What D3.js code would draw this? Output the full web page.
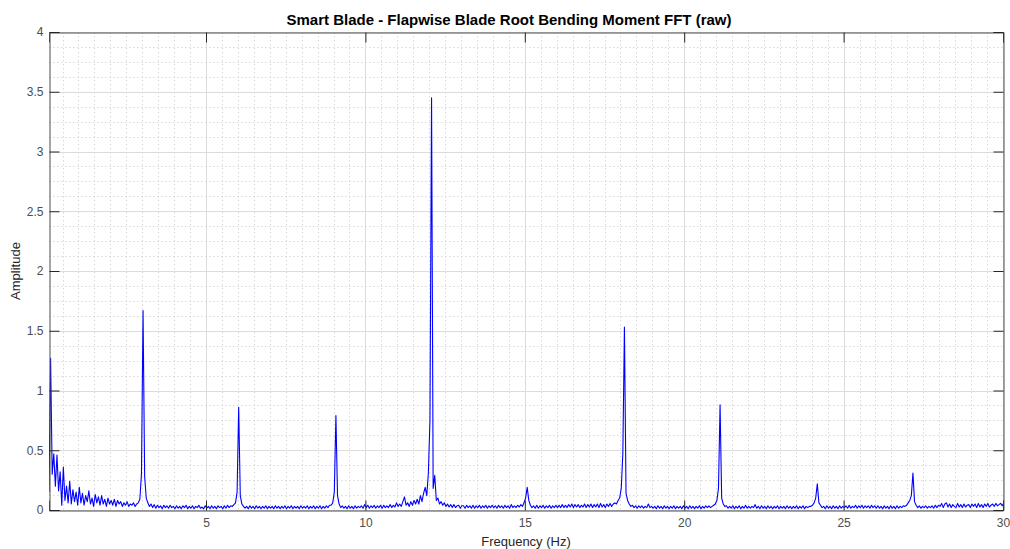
<!DOCTYPE html>
<html><head><meta charset="utf-8">
<script src="https://cdn.jsdelivr.net/npm/d3@7"></script>
<style>body{margin:0;background:#fff}svg{display:block}</style>
</head><body><svg id="c" width="1010" height="549"></svg>
<script>
const title = "Smart Blade - Flapwise Blade Root Bending Moment FFT (raw)";
const xLabel = "Frequency (Hz)";
const yLabel = "Amplitude";
const xTicks = [5, 10, 15, 20, 25, 30];
const yTicks = [0, 0.5, 1, 1.5, 2, 2.5, 3, 3.5, 4];
const freqStart = 0.075, freqStep = 0.05;   // FFT bin grid
// amplitude per 1 Hz band (20 bins each)
const amp00 = [0.15,1.27,0.3,0.47,0.2,0.46,0.16,0.32,0.04,0.36,0.08,0.2,0.06,0.24,0.05,0.17,0.07,0.15,0.04,0.19];
const amp01 = [0.06,0.14,0.04,0.12,0.07,0.16,0.05,0.1,0.03,0.13,0.06,0.11,0.04,0.12,0.05,0.09,0.03,0.1,0.05,0.08];
const amp02 = [0.04,0.09,0.03,0.08,0.05,0.07,0.03,0.06,0.04,0.07,0.03,0.05,0.04,0.06,0.03,0.05,0.06,0.09,0.3,1.67];
const amp03 = [0.28,0.1,0.06,0.03,0.05,0.02,0.045,0.015,0.04,0.02,0.035,0.01,0.04,0.02,0.035,0.015,0.04,0.02,0.03,0.01];
const amp04 = [0.035,0.015,0.03,0.01,0.035,0.02,0.04,0.01,0.03,0.015,0.035,0.01,0.03,0.02,0.04,0.015,0.025,0.01,0.035,0.015];
const amp05 = [0.03,0.01,0.035,0.015,0.03,0.01,0.035,0.02,0.03,0.01,0.035,0.015,0.04,0.02,0.035,0.03,0.045,0.06,0.15,0.86];
const amp06 = [0.12,0.05,0.03,0.015,0.03,0.01,0.035,0.015,0.03,0.01,0.035,0.015,0.03,0.01,0.03,0.015,0.035,0.01,0.03,0.015];
const amp07 = [0.03,0.01,0.035,0.015,0.03,0.01,0.03,0.015,0.035,0.01,0.03,0.015,0.035,0.01,0.03,0.015,0.03,0.01,0.035,0.015];
const amp08 = [0.03,0.015,0.035,0.01,0.03,0.015,0.035,0.01,0.03,0.015,0.035,0.01,0.03,0.015,0.035,0.02,0.04,0.04,0.06,0.15];
const amp09 = [0.79,0.12,0.05,0.02,0.035,0.015,0.03,0.01,0.035,0.015,0.03,0.01,0.035,0.015,0.03,0.02,0.035,0.015,0.045,0.02];
const amp10 = [0.04,0.015,0.035,0.02,0.04,0.015,0.035,0.02,0.04,0.015,0.04,0.02,0.035,0.02,0.045,0.02,0.04,0.025,0.06,0.03];
const amp11 = [0.05,0.03,0.07,0.11,0.04,0.06,0.03,0.07,0.04,0.08,0.05,0.09,0.05,0.12,0.07,0.14,0.19,0.12,0.31,0.75];
const amp12 = [3.45,0.18,0.29,0.08,0.1,0.05,0.07,0.04,0.06,0.03,0.05,0.025,0.045,0.02,0.045,0.02,0.035,0.04,0.015,0.035];
const amp13 = [0.035,0.015,0.04,0.02,0.035,0.015,0.04,0.015,0.035,0.02,0.04,0.015,0.035,0.02,0.04,0.015,0.035,0.02,0.04,0.02];
const amp14 = [0.035,0.015,0.04,0.02,0.035,0.015,0.04,0.02,0.035,0.015,0.045,0.02,0.035,0.02,0.04,0.025,0.045,0.03,0.06,0.1];
const amp15 = [0.19,0.08,0.04,0.02,0.035,0.015,0.04,0.015,0.035,0.02,0.04,0.015,0.035,0.02,0.04,0.015,0.035,0.02,0.04,0.02];
const amp16 = [0.04,0.02,0.045,0.02,0.04,0.02,0.045,0.025,0.05,0.02,0.045,0.025,0.045,0.02,0.04,0.025,0.05,0.02,0.045,0.025];
const amp17 = [0.05,0.02,0.045,0.025,0.05,0.02,0.055,0.025,0.045,0.02,0.05,0.03,0.055,0.03,0.05,0.06,0.05,0.08,0.1,0.18];
const amp18 = [0.47,1.53,0.14,0.08,0.05,0.03,0.04,0.02,0.035,0.015,0.035,0.02,0.035,0.015,0.03,0.02,0.05,0.02,0.03,0.015];
const amp19 = [0.03,0.01,0.035,0.015,0.03,0.01,0.035,0.015,0.03,0.01,0.03,0.015,0.035,0.01,0.03,0.015,0.03,0.01,0.035,0.015];
const amp20 = [0.03,0.01,0.035,0.015,0.03,0.01,0.03,0.015,0.035,0.01,0.03,0.015,0.035,0.02,0.035,0.02,0.03,0.04,0.05,0.08];
const amp21 = [0.18,0.88,0.1,0.05,0.03,0.035,0.015,0.03,0.015,0.035,0.01,0.03,0.015,0.035,0.01,0.03,0.015,0.04,0.015,0.03];
const amp22 = [0.015,0.03,0.02,0.045,0.015,0.03,0.01,0.035,0.015,0.03,0.01,0.035,0.015,0.03,0.01,0.03,0.015,0.035,0.01,0.03];
const amp23 = [0.015,0.03,0.01,0.035,0.015,0.03,0.01,0.03,0.015,0.035,0.01,0.03,0.015,0.035,0.01,0.03,0.02,0.03,0.03,0.04];
const amp24 = [0.06,0.1,0.22,0.06,0.04,0.02,0.03,0.01,0.035,0.015,0.03,0.01,0.035,0.015,0.03,0.01,0.035,0.015,0.03,0.02];
const amp25 = [0.035,0.015,0.04,0.015,0.03,0.02,0.04,0.015,0.035,0.02,0.04,0.015,0.035,0.02,0.035,0.015,0.04,0.02,0.035,0.015];
const amp26 = [0.035,0.015,0.03,0.01,0.035,0.015,0.03,0.01,0.035,0.015,0.03,0.01,0.035,0.015,0.03,0.02,0.035,0.03,0.04,0.06];
const amp27 = [0.08,0.12,0.31,0.07,0.04,0.02,0.035,0.015,0.03,0.02,0.035,0.015,0.03,0.02,0.035,0.015,0.04,0.02,0.04,0.03];
const amp28 = [0.055,0.02,0.05,0.06,0.025,0.05,0.02,0.045,0.03,0.02,0.055,0.025,0.045,0.02,0.05,0.025,0.04,0.045,0.02,0.05];
const amp29 = [0.03,0.05,0.02,0.055,0.025,0.045,0.02,0.05,0.03,0.055,0.025,0.04,0.05,0.03,0.055,0.035,0.045,0.055,0.035,0.06];

const amps = [].concat(amp00,amp01,amp02,amp03,amp04,amp05,amp06,amp07,amp08,amp09,
  amp10,amp11,amp12,amp13,amp14,amp15,amp16,amp17,amp18,amp19,
  amp20,amp21,amp22,amp23,amp24,amp25,amp26,amp27,amp28,amp29);
const data = amps.map((a, i) => ({f: freqStart + i * freqStep, a}));

const m = {l: 49, r: 1003, t: 32, b: 510};
const svg = d3.select("#c");
const x = d3.scaleLinear().domain([0.075, 30]).range([m.l, m.r]);
const y = d3.scaleLinear().domain([0, 4]).range([m.b, m.t]);
const font = "Helvetica, Arial, 'Liberation Sans', sans-serif";

// minor grid
const xMinor = d3.range(0.5, 30, 0.5).filter(v => v % 5 !== 0);
const yMinor = d3.range(0.125, 4, 0.125).filter(v => Math.abs(v*2 - Math.round(v*2)) > 1e-6);
const g = svg.append("g");
g.selectAll(".xm").data(xMinor).join("line")
  .attr("x1", d => Math.round(x(d)) + 0.5).attr("x2", d => Math.round(x(d)) + 0.5)
  .attr("y1", m.t).attr("y2", m.b)
  .attr("stroke", "#d9d9d9").attr("stroke-dasharray", "1.5,2.5");
g.selectAll(".ym").data(yMinor).join("line")
  .attr("y1", d => Math.round(y(d)) + 0.5).attr("y2", d => Math.round(y(d)) + 0.5)
  .attr("x1", m.l).attr("x2", m.r)
  .attr("stroke", "#d9d9d9").attr("stroke-dasharray", "1.5,2.5");
// major grid
g.selectAll(".xM").data(xTicks).join("line")
  .attr("x1", d => Math.round(x(d)) + 0.5).attr("x2", d => Math.round(x(d)) + 0.5)
  .attr("y1", m.t).attr("y2", m.b)
  .attr("stroke", "#dcdcdc");
g.selectAll(".yM").data(yTicks).join("line")
  .attr("y1", d => Math.round(y(d)) + 0.5).attr("y2", d => Math.round(y(d)) + 0.5)
  .attr("x1", m.l).attr("x2", m.r)
  .attr("stroke", "#dcdcdc");

// data line
svg.append("clipPath").attr("id", "clip").append("rect")
  .attr("x", m.l).attr("y", m.t).attr("width", m.r - m.l).attr("height", m.b - m.t);
svg.append("path").datum(data)
  .attr("clip-path", "url(#clip)")
  .attr("fill", "none").attr("stroke", "#0000ff").attr("stroke-width", 1.1)
  .attr("stroke-linejoin", "round")
  .attr("d", d3.line().x(d => x(d.f)).y(d => y(d.a)));

// axes (ticks inside, box)
const axB = d3.axisBottom(x).tickValues(xTicks).tickSize(-10).tickPadding(8).tickFormat(d3.format("d"));
const axT = d3.axisTop(x).tickValues(xTicks).tickSize(-10).tickFormat("");
const axL = d3.axisLeft(y).tickValues(yTicks).tickSize(-10).tickPadding(6).tickFormat(d => d);
const axR = d3.axisRight(y).tickValues(yTicks).tickSize(-10).tickFormat("");
function style(sel){
  sel.selectAll("path").attr("stroke", "#4d4d4d");
  sel.selectAll("line").attr("stroke", "#262626");
  sel.selectAll("text").attr("fill", "#4d4d4d").style("font-family", font).style("font-size", "12px");
}
svg.append("g").attr("transform", `translate(0,${m.b + 0.5})`).call(axB).call(style);
svg.append("g").attr("transform", `translate(0,${m.t + 0.5})`).call(axT).call(style);
svg.append("g").attr("transform", `translate(${m.l + 0.5},0)`).call(axL).call(style);
svg.append("g").attr("transform", `translate(${m.r + 0.5},0)`).call(axR).call(style);

svg.append("text").attr("x", 509).attr("y", 25)
  .attr("text-anchor", "middle").style("font-family", font).style("font-size", "15px")
  .style("font-weight", "bold").attr("fill", "#000").text(title);
svg.append("text").attr("x", (m.l + m.r) / 2).attr("y", 546)
  .attr("text-anchor", "middle").style("font-family", font).style("font-size", "13px")
  .attr("fill", "#262626").text(xLabel);
svg.append("text").attr("transform", `translate(20,${(m.t + m.b) / 2}) rotate(-90)`)
  .attr("text-anchor", "middle").style("font-family", font).style("font-size", "13px")
  .attr("fill", "#262626").text(yLabel);
</script></body></html>
